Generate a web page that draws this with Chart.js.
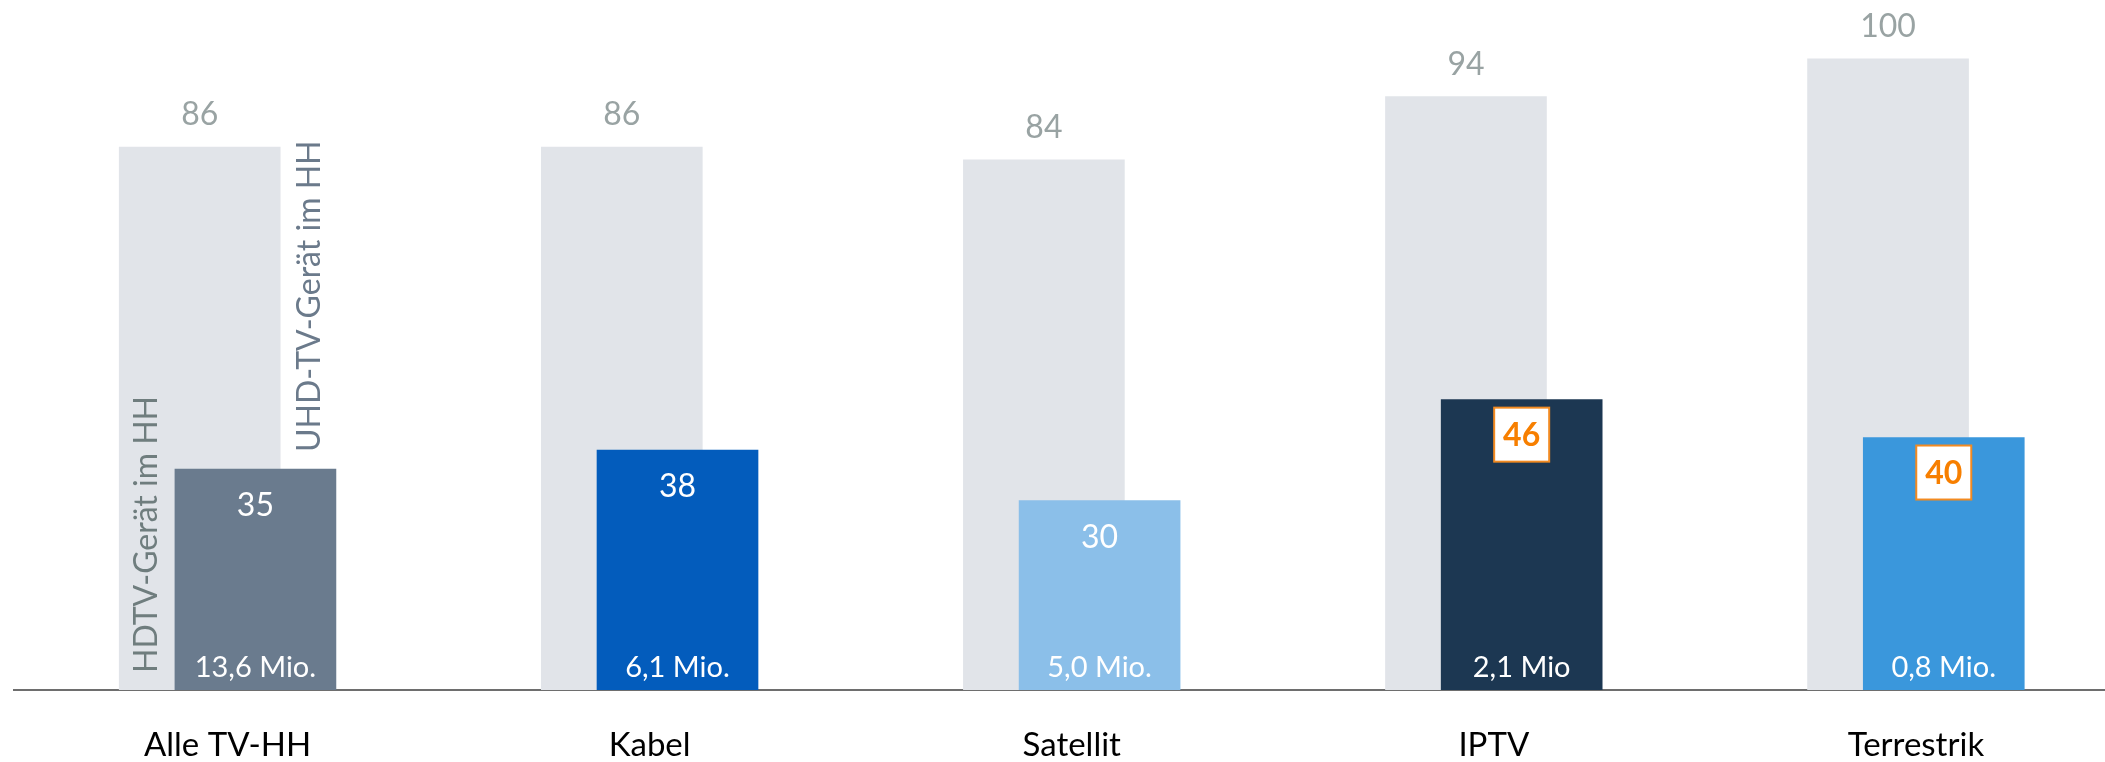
<!DOCTYPE html>
<html lang="de">
<head>
<meta charset="utf-8">
<title>HDTV / UHD-TV im Haushalt</title>
<script src="https://cdn.jsdelivr.net/npm/chart.js@4/dist/chart.umd.min.js"></script>
<style>
    html, body { margin: 0; padding: 0; background: #ffffff; }
    #wrap { width: 2105px; height: 762px; position: relative; }
</style>
</head>
<body>
<div id="wrap"><canvas id="chart"></canvas></div>
<script>
// Data
const categories = ['Alle TV-HH', 'Kabel', 'Satellit', 'IPTV', 'Terrestrik'];
const hdtvShare = [86, 86, 84, 94, 100];
const uhdShare = [35, 38, 30, 46, 40];
const uhdHouseholds = ['13,6 Mio.', '6,1 Mio.', '5,0 Mio.', '2,1 Mio', '0,8 Mio.'];
const highlighted = [false, false, false, true, true];
const seriesNames = ['HDTV-Gerät im HH', 'UHD-TV-Gerät im HH'];

// styling
const FONT = 'Lato, "Open Sans", sans-serif';
const greyBar = '#e1e4e9';
const uhdColors = ['#6a7b8e', '#035cbc', '#8bbfe9', '#1c3752', '#3a97dc'];
const pairShift = 0.066; // half the horizontal offset between the two bars of a pair

function drawLabels(chart) {
    const ctx = chart.ctx;
    const greyMeta = chart.getDatasetMeta(0);
    const uhdMeta = chart.getDatasetMeta(1);
    ctx.save();
    ctx.textAlign = 'center';
    ctx.textBaseline = 'alphabetic';

    greyMeta.data.forEach((bar, i) => {
        ctx.font = '32px ' + FONT;
        ctx.fillStyle = '#99a3a3';
        ctx.fillText(hdtvShare[i], bar.x, bar.y - 22);
    });

    uhdMeta.data.forEach((bar, i) => {
        if (highlighted[i]) {
            let w = 55, h = 54;
            let top = bar.y + 8;
            ctx.fillStyle = '#ffffff';
            ctx.fillRect(bar.x - w / 2, top, w, h);
            ctx.strokeStyle = '#f28a21';
            ctx.lineWidth = 2;
            ctx.strokeRect(bar.x - w / 2, top, w, h);
            ctx.font = 'bold 32px ' + FONT;
            ctx.fillStyle = '#f77f00';
            ctx.textBaseline = 'middle';
            ctx.fillText(uhdShare[i], bar.x, top + h / 2 + 1);
            ctx.textBaseline = 'alphabetic';
        } else {
            ctx.font = '32px ' + FONT;
            ctx.fillStyle = '#ffffff';
            ctx.fillText(uhdShare[i], bar.x, bar.y + 47);
        }
        ctx.font = '29px ' + FONT;
        ctx.fillStyle = '#ffffff';
        ctx.fillText(uhdHouseholds[i], bar.x, bar.base - 13);
    });

    // rotated series names on the first pair
    let g = greyMeta.data[0];
    let u = uhdMeta.data[0];
    ctx.font = '32px ' + FONT;
    ctx.textAlign = 'left';

    ctx.save();
    ctx.translate(g.x - g.width / 2 + 38, g.base - 17);
    ctx.rotate(-Math.PI / 2);
    ctx.fillStyle = '#6f7d7e';
    ctx.fillText(seriesNames[0], 0, 0);
    ctx.restore();

    ctx.save();
    ctx.translate(g.x + g.width / 2 + 40, u.y - 17);
    ctx.rotate(-Math.PI / 2);
    ctx.fillStyle = '#6b7a8b';
    ctx.fillText(seriesNames[1], 0, 0);
    ctx.restore();

    ctx.restore();
}

function buildChart() {
    const ctx = document.getElementById('chart').getContext('2d');
    new Chart(ctx, {
        type: 'bar',
        data: {
            datasets: [{
                label: seriesNames[0],
                data: hdtvShare.map((v, i) => ({ x: i - pairShift, y: v })),
                backgroundColor: greyBar,
                order: 1
            }, {
                label: seriesNames[1],
                data: uhdShare.map((v, i) => ({ x: i + pairShift, y: v })),
                backgroundColor: uhdColors,
                order: 0
            }]
        },
        options: {
            responsive: true,
            maintainAspectRatio: false,
            animation: false,
            grouped: false,
            barThickness: 161,
            layout: { padding: { top: 2, left: 14, right: 0, bottom: 0 } },
            plugins: {
                legend: { display: false },
                tooltip: { enabled: false }
            },
            scales: {
                x: {
                    type: 'linear',
                    offset: false,
                    bounds: 'data',
                    min: -0.506,
                    max: 4.448,
                    z: 1,
                    grid: { display: false, drawTicks: false, offset: false },
                    border: { display: true, color: '#6e6e6e', width: 2 },
                    afterBuildTicks: scale => {
                        scale.ticks = categories.map((c, i) => ({ value: i }));
                    },
                    afterFit: scale => {
                        scale.height = 72;
                    },
                    ticks: {
                        padding: 39,
                        maxRotation: 0,
                        autoSkip: false,
                        color: '#000000',
                        font: { family: FONT, size: 33, lineHeight: 1 },
                        callback: value => categories[value]
                    }
                },
                y: {
                    display: false,
                    min: 0,
                    max: 109
                }
            }
        },
        plugins: [{ id: 'barLabels', afterDatasetsDraw: drawLabels }]
    });
}

document.fonts.load('32px Lato').then(buildChart, buildChart);
</script>
</body>
</html>
